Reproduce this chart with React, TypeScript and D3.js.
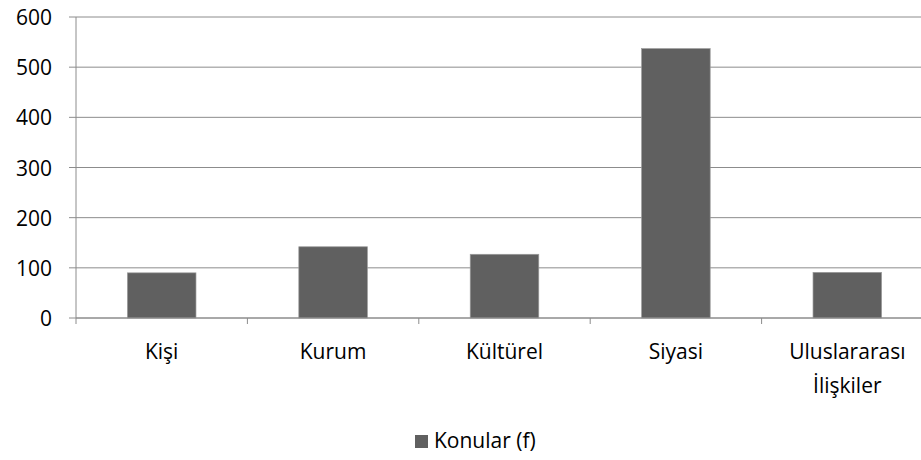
import React from "react";
import * as d3 from "d3";

const categories = ["Kişi", "Kurum", "Kültürel", "Siyasi", "Uluslararası\nİlişkiler"];
const values = [90, 142, 127, 537, 91];
const yTicks = [0, 100, 200, 300, 400, 500, 600];
const seriesName = "Konular (f)";

export default function App() {
  const W = 921, H = 460;
  const left = 76, right = 933, top = 17, bottom = 318;
  const x = d3.scaleBand<string>().domain(categories).range([left, right]).paddingInner(0.6).paddingOuter(0.3);
  const band = d3.scaleBand<string>().domain(categories).range([left, right]);
  const y = d3.scaleLinear().domain([0, 600]).range([bottom, top]);
  const font = "'Open Sans', 'Noto Sans', sans-serif";
  const fs = 21;
  return (
    <svg width={W} height={H} style={{ position: "absolute", left: 0, top: 0 }} fontFamily={font}>
      <rect width={W} height={H} fill="#fff" />
      {yTicks.map((t) => (
        <g key={t}>
          <line x1={left - 7} x2={right} y1={y(t)} y2={y(t)} stroke="#8c8c8c" strokeWidth={1} />
          <text x={52} y={y(t) + 8} textAnchor="end" fontSize={fs} fill="#000">{t}</text>
        </g>
      ))}
      <line x1={left} x2={left} y1={top} y2={bottom + 6} stroke="#8c8c8c" />
      {band.domain().map((c) => (
        <line key={c + "e"} x1={(band(c) as number) + band.bandwidth()} x2={(band(c) as number) + band.bandwidth()} y1={bottom} y2={bottom + 6} stroke="#8c8c8c" />
      ))}
      {categories.map((c, i) => (
        <rect key={c} x={x(c)} y={y(values[i])} width={x.bandwidth()} height={bottom - y(values[i])} fill="#606060" stroke="#9a9a9a" strokeWidth={0.7} />
      ))}
      <line x1={left} x2={right} y1={bottom} y2={bottom} stroke="#8c8c8c" />
      {categories.map((c) => {
        const cx = (band(c) as number) + band.bandwidth() / 2;
        return c.split("\n").map((line, j) => (
          <text key={c + j} x={cx} y={359 + j * 34} textAnchor="middle" fontSize={fs} fill="#000">{line}</text>
        ));
      })}
      <rect x={415} y={435} width={13} height={13} fill="#606060" />
      <text x={434} y={448} fontSize={fs} fill="#000">{seriesName}</text>
    </svg>
  );
}
